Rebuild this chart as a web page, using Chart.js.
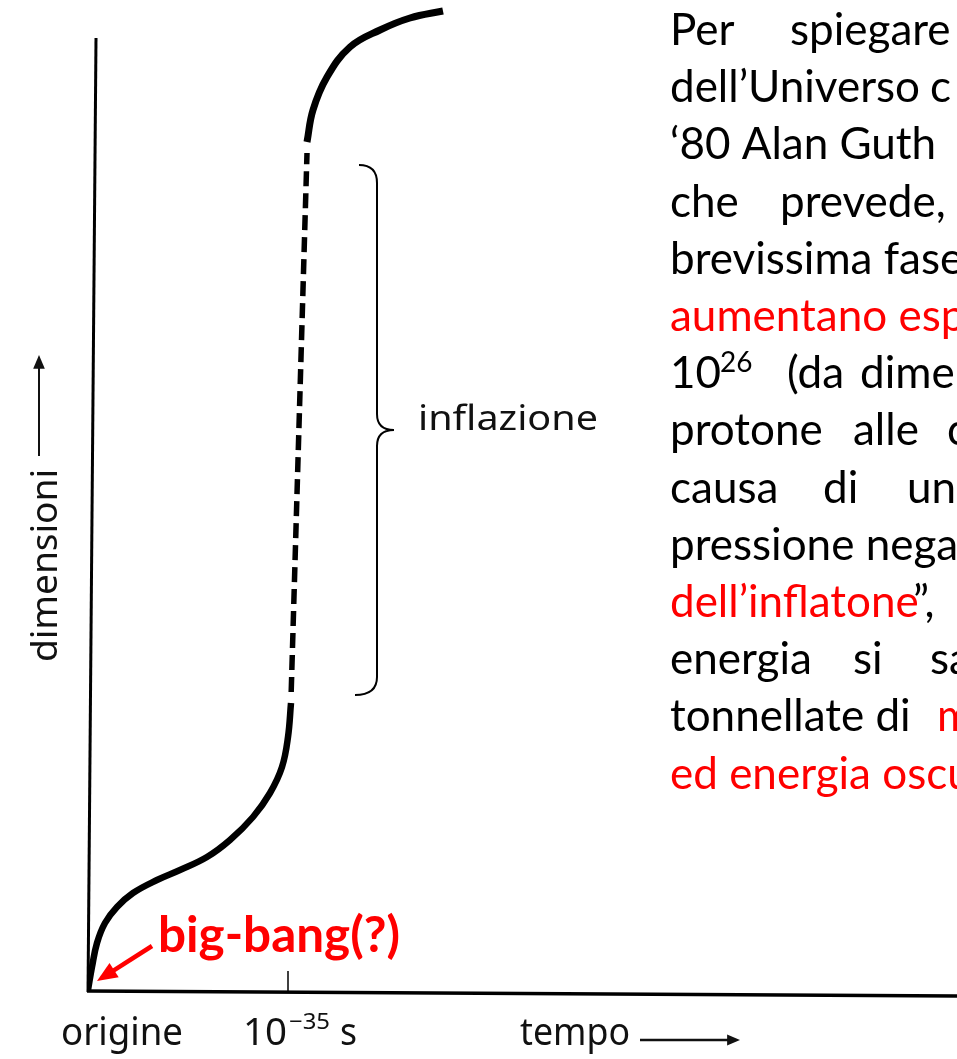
<!DOCTYPE html>
<html>
<head>
<meta charset="utf-8">
<script src="https://cdn.jsdelivr.net/npm/chart.js@4/dist/chart.umd.min.js"></script>
<style>
  html, body { margin: 0; padding: 0; background: #fff; }
  #wrap { position: relative; width: 957px; height: 1059px; }
</style>
</head>
<body>
<div id="wrap"><canvas id="chart" width="957" height="1059"></canvas></div>
<script>
// tempo in units of 10^-35 s, dimensioni in arbitrary units
const earlyX = [0, 0.02, 0.045, 0.085, 0.145, 0.225, 0.345, 0.46, 0.595, 0.71, 0.825, 0.91, 0.97, 1.0, 1.015];
const earlyY = [0, 0.23, 0.47, 0.67, 0.83, 0.97, 1.10, 1.20, 1.33, 1.50, 1.73, 1.97, 2.23, 2.53, 2.87];
const inflX = [1.016, 1.095];
const inflY = [2.98, 8.37];
const lateX = [1.095, 1.125, 1.195, 1.31, 1.46, 1.61, 1.775];
const lateY = [8.48, 8.8, 9.13, 9.43, 9.6, 9.72, 9.79];

const xMax = 4.345;
const yMax = 9.9;
const yAxisTop = 9.52;
const tickX = 1;
const braceTop = 8.25, braceBottom = 2.95, braceX = 1.445;

const toPts = (xs, ys) => xs.map((x, i) => ({ x, y: ys[i] }));

// slide text, one entry per line: [text, x, colour, sup?]
const BLACK = '#000', RED = '#ff0000';
const slideLines = [
    [['Per', 670, BLACK], ['spiegare', 790, BLACK]],
    [['dell’Universo', 670, BLACK], ['c', 930, BLACK]],
    [['‘80 Alan Guth', 670, BLACK]],
    [['che', 670, BLACK], ['prevede,', 780, BLACK]],
    [['brevissima fase', 670, BLACK]],
    [['aumentano esp', 670, RED]],
    [['10', 670, BLACK], ['26', 720, BLACK, true], ['(da', 787, BLACK], ['dime', 860, BLACK]],
    [['protone', 670, BLACK], ['alle', 853, BLACK], ['c', 947, BLACK]],
    [['causa', 670, BLACK], ['di', 823, BLACK], ['una', 907, BLACK]],
    [['pressione negat', 670, BLACK]],
    [['dell’inflatone', 670, RED], ['”,', 913, BLACK]],
    [['energia', 670, BLACK], ['si', 853, BLACK], ['sa', 930, BLACK]],
    [['tonnellate di', 670, BLACK], ['m', 937, RED]],
    [['ed energia oscu', 670, RED]]
];

const figFont = '"Noto Sans", sans-serif';
const slideFont = 'Lato, sans-serif';

// draw text stretched horizontally to a given width
const fitText = (ctx, txt, x, y, width) => {
    const w = ctx.measureText(txt).width;
    ctx.save();
    ctx.translate(x, y);
    ctx.scale(width / w, 1);
    ctx.fillText(txt, 0, 0);
    ctx.restore();
};

const drawArrow = (ctx, x1, y1, x2, y2, head) => {
    const a = Math.atan2(y2 - y1, x2 - x1);
    ctx.beginPath();
    ctx.moveTo(x1, y1);
    ctx.lineTo(x2 - Math.cos(a) * head * 0.8, y2 - Math.sin(a) * head * 0.8);
    ctx.stroke();
    ctx.beginPath();
    ctx.moveTo(x2, y2);
    ctx.lineTo(x2 - head * Math.cos(a - 0.4), y2 - head * Math.sin(a - 0.4));
    ctx.lineTo(x2 - head * Math.cos(a + 0.4), y2 - head * Math.sin(a + 0.4));
    ctx.closePath();
    ctx.fill();
};

const decorations = {
    id: 'decorations',
    beforeDatasetsDraw(chart) {
        const { ctx, scales: { x, y } } = chart;
        const x0 = x.getPixelForValue(0);
        const y0 = y.getPixelForValue(0);
        ctx.save();
        ctx.strokeStyle = '#000';
        ctx.lineCap = 'butt';
        // axes
        ctx.lineWidth = 3;
        ctx.beginPath();
        ctx.moveTo(x0 + 8, y.getPixelForValue(yAxisTop));
        ctx.lineTo(x0, y0 + 2);
        ctx.stroke();
        ctx.lineWidth = 3.5;
        ctx.beginPath();
        ctx.moveTo(x0 - 1, y0 + 1);
        ctx.lineTo(x.getPixelForValue(xMax), y0 + 6);
        ctx.stroke();
        // tick at 10^-35 s
        ctx.lineWidth = 1.5;
        const tx = x.getPixelForValue(tickX);
        ctx.beginPath();
        ctx.moveTo(tx, y0 - 19);
        ctx.lineTo(tx, y0 + 2);
        ctx.stroke();
        ctx.restore();
    },
    afterDraw(chart) {
        const { ctx, scales: { x, y } } = chart;
        ctx.save();

        // brace for inflation
        const bx = x.getPixelForValue(braceX);
        const bt = y.getPixelForValue(braceTop);
        const bb = y.getPixelForValue(braceBottom);
        const bm = (bt + bb) / 2;
        ctx.strokeStyle = '#000';
        ctx.lineWidth = 2;
        ctx.beginPath();
        ctx.moveTo(bx - 18, bt);
        ctx.quadraticCurveTo(bx, bt, bx, bt + 18);
        ctx.lineTo(bx, bm - 16);
        ctx.quadraticCurveTo(bx, bm, bx + 17, bm);
        ctx.quadraticCurveTo(bx, bm, bx, bm + 16);
        ctx.lineTo(bx, bb - 18);
        ctx.quadraticCurveTo(bx, bb, bx - 22, bb);
        ctx.stroke();

        ctx.fillStyle = '#111';
        ctx.textBaseline = 'alphabetic';
        ctx.textAlign = 'left';
        ctx.font = '34px ' + figFont;
        fitText(ctx, 'inflazione', 418, 430, 180);

        // bottom labels
        ctx.font = '39px ' + figFont;
        fitText(ctx, 'origine', 61, 1045, 122);
        fitText(ctx, '10', 243, 1045, 44);
        fitText(ctx, 's', 340, 1045, 17);
        fitText(ctx, 'tempo', 520, 1045, 110);
        ctx.font = '22px ' + figFont;
        fitText(ctx, '−35', 289, 1029, 41);
        ctx.lineWidth = 2.5;
        ctx.strokeStyle = '#111';
        drawArrow(ctx, 640, 1040, 740, 1040, 14);

        // y label
        ctx.save();
        ctx.translate(57, 662);
        ctx.rotate(-Math.PI / 2);
        ctx.font = '36px ' + figFont;
        fitText(ctx, 'dimensioni', 0, 0, 193);
        ctx.restore();
        ctx.lineWidth = 2;
        drawArrow(ctx, 39, 456, 39, 355, 15);

        // big-bang label and arrow
        ctx.fillStyle = RED;
        ctx.strokeStyle = RED;
        ctx.font = 'bold 50px ' + slideFont;
        fitText(ctx, 'big-bang(?)', 158, 952, 242);
        ctx.lineWidth = 4.5;
        drawArrow(ctx, 152, 946, 97, 981, 22);

        // slide text
        slideLines.forEach((parts, i) => {
            const base = 45 + i * 57.2;
            parts.forEach(([txt, px, col, sup]) => {
                ctx.fillStyle = col;
                ctx.font = (sup ? '28px ' : '44px ') + slideFont;
                ctx.fillText(txt, px, sup ? base - 16 : base);
            });
        });
        ctx.restore();
    }
};

new Chart(document.getElementById('chart'), {
    type: 'line',
    data: {
        datasets: [
            {
                data: toPts(earlyX, earlyY),
                borderColor: '#000',
                borderWidth: 6.5,
                tension: 0.4
            },
            {
                data: toPts(inflX, inflY),
                borderColor: '#000',
                borderWidth: 5.5,
                borderDash: [15, 7]
            },
            {
                data: toPts(lateX, lateY),
                borderColor: '#000',
                borderWidth: 7,
                tension: 0.4
            }
        ]
    },
    options: {
        responsive: false,
        animation: false,
        layout: { padding: { left: 88, right: 0, top: 0, bottom: 69 } },
        elements: { point: { radius: 0 } },
        scales: {
            x: { type: 'linear', min: 0, max: xMax, display: false },
            y: { type: 'linear', min: 0, max: yMax, display: false }
        },
        plugins: {
            legend: { display: false },
            tooltip: { enabled: false }
        }
    },
    plugins: [decorations]
});
</script>
</body>
</html>
